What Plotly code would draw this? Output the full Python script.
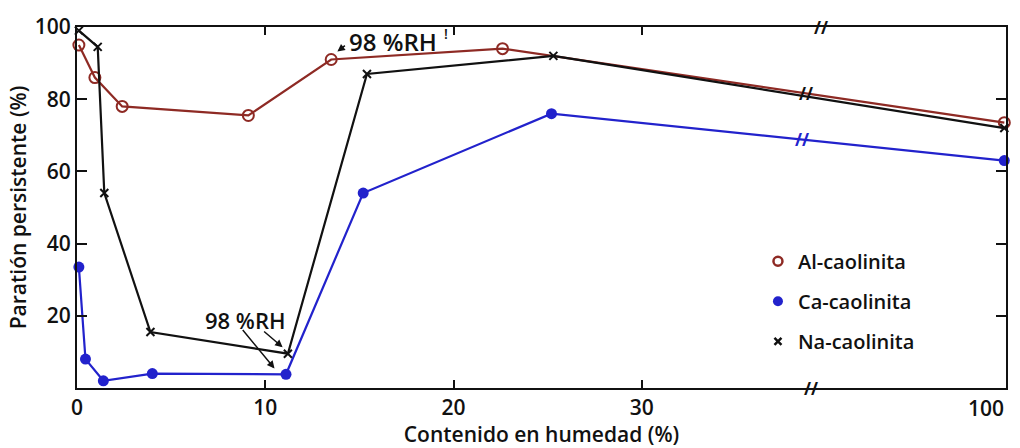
import plotly.graph_objects as go

# ---------------- data ----------------
al_x = [0.1, 0.95, 2.4, 9.1, 13.5, 22.6, 100]
al_y = [95, 86, 78, 75.5, 91, 94, 73.5]

ca_x = [0.1, 0.45, 1.4, 4.0, 11.1, 15.2, 25.2, 100]
ca_y = [33.5, 8, 2, 4, 3.8, 54, 76, 63]

na_x = [0.1, 1.1, 1.45, 3.9, 11.2, 15.4, 25.3, 100]
na_y = [99, 94.5, 54, 15.5, 9.5, 87, 92, 72]

x_ticks = [0, 10, 20, 30]
x_last_tick = 100
y_ticks = [20, 40, 60, 80, 100]

# broken x axis: linear 0-30, then compressed segment up to 100
BREAK_LO, TOP_VAL, TOP_POS = 30, 100, 49.25


def to_axis(v):
    if v <= BREAK_LO:
        return v
    return BREAK_LO + (v - BREAK_LO) * (TOP_POS - BREAK_LO) / (TOP_VAL - BREAK_LO)


def interp(xs, ys, xq):
    for i in range(len(xs) - 1):
        if xs[i] <= xq <= xs[i + 1]:
            t = (xq - xs[i]) / (xs[i + 1] - xs[i])
            return ys[i] + t * (ys[i + 1] - ys[i])
    return ys[-1]


RED = "#8e2a24"
BLUE = "#2222cc"
BLACK = "#111111"
FONT = "Open Sans"
FS = 21
WEIGHT = 600

fig = go.Figure()

series = [
    ("Al-caolinita", al_x, al_y, RED,
     dict(symbol="circle-open", size=11, color=RED, line=dict(width=2, color=RED)),
     dict(symbol="circle-open", size=9, color=RED, line=dict(width=2.5, color=RED))),
    ("Ca-caolinita", ca_x, ca_y, BLUE,
     dict(symbol="circle", size=11, color=BLUE),
     dict(symbol="circle", size=10, color=BLUE)),
    ("Na-caolinita", na_x, na_y, BLACK,
     dict(symbol="x-thin", size=8, color=BLACK, line=dict(width=2, color=BLACK)),
     dict(symbol="x-thin", size=7, color=BLACK, line=dict(width=2.5, color=BLACK))),
]

for name, xs, ys, col, mk, lmk in series:
    xd = [to_axis(v) for v in xs]
    fig.add_trace(go.Scatter(x=xd, y=ys, mode="lines+markers", name=name,
                             line=dict(color=col, width=2.2), marker=mk,
                             showlegend=False, cliponaxis=False))
    # legend-only marker entry
    fig.add_trace(go.Scatter(x=[None], y=[None], mode="markers", name=name,
                             marker=lmk, legendgroup=name, showlegend=True))

annotations = []
# break marks on axes and lines
brk_font = dict(family=FONT, size=17, color=BLACK, weight=700)
annotations.append(dict(x=39.5, y=1.0, xref="x", yref="paper", text="//",
                        yanchor="middle", showarrow=False, font=brk_font))
annotations.append(dict(x=39.0, y=0.0, xref="x", yref="paper", text="//",
                        yanchor="middle", showarrow=False, font=brk_font))
xb_red = 38.74
annotations.append(dict(x=xb_red, y=interp([to_axis(v) for v in al_x], al_y, xb_red),
                        text="//", showarrow=False, font=brk_font))
xb_blue = 38.5
annotations.append(dict(x=xb_blue, y=interp([to_axis(v) for v in ca_x], ca_y, xb_blue),
                        text="//", showarrow=False,
                        font=dict(family=FONT, size=17, color=BLUE, weight=700)))

# last x tick label (100) right-aligned at the axis end
annotations.append(dict(x=1.0, y=0, xref="paper", yref="paper", text=str(x_last_tick),
                        xanchor="right", yanchor="top", yshift=-4, showarrow=False,
                        font=dict(family=FONT, size=FS, color=BLACK, weight=WEIGHT)))

# "98 %RH" annotations
annotations.append(dict(x=8.9, y=18.8, text="98 %RH", showarrow=False,
                        font=dict(family=FONT, size=22, color=BLACK, weight=WEIGHT)))
annotations.append(dict(x=10.49, y=5.4, ax=-33, ay=-40, text="", showarrow=True,
                        arrowhead=2, arrowsize=1, arrowwidth=1.5, arrowcolor=BLACK))
annotations.append(dict(x=10.92, y=11.3, ax=-20, ay=-17, text="", showarrow=True,
                        arrowhead=2, arrowsize=1, arrowwidth=1.5, arrowcolor=BLACK))
annotations.append(dict(x=16.8, y=96.0, text="98 %RH", showarrow=False,
                        font=dict(family=FONT, size=24, color=BLACK, weight=WEIGHT)))
annotations.append(dict(x=19.6, y=98.2, text="!", showarrow=False,
                        font=dict(family=FONT, size=14, color=BLACK, weight=WEIGHT)))
annotations.append(dict(x=13.83, y=93.2, ax=9, ay=-7, text="", showarrow=True,
                        arrowhead=2, arrowsize=1, arrowwidth=1.5, arrowcolor=BLACK))

tick_font = dict(family=FONT, size=FS, color=BLACK, weight=WEIGHT)

fig.update_layout(
    width=1020, height=448,
    margin=dict(l=77, r=12, t=22, b=56),
    paper_bgcolor="white", plot_bgcolor="white",
    font=dict(family=FONT, size=FS, color=BLACK, weight=WEIGHT),
    showlegend=True,
    legend=dict(x=0.733, y=0.405, xanchor="left", yanchor="top",
                bgcolor="rgba(0,0,0,0)", tracegroupgap=11,
                font=dict(family=FONT, size=20, color=BLACK, weight=WEIGHT),
                itemwidth=30),
    annotations=annotations,
    xaxis=dict(range=[0, 49.34], tickvals=[to_axis(v) for v in x_ticks],
               ticktext=[str(v) for v in x_ticks], tickfont=tick_font,
               showgrid=False, zeroline=False, showline=True, linewidth=2,
               linecolor=BLACK, mirror="ticks", ticks="inside", ticklen=8,
               tickwidth=2, tickcolor=BLACK,
               title=dict(text="Contenido en humedad (%)", standoff=0,
                          font=dict(family=FONT, size=FS, weight=WEIGHT))),
    yaxis=dict(range=[0, 100], tickvals=y_ticks, ticktext=[str(v) for v in y_ticks],
               tickfont=tick_font,
               showgrid=False, zeroline=False, showline=True, linewidth=2,
               linecolor=BLACK, mirror="ticks", ticks="inside", ticklen=10,
               tickwidth=2, tickcolor=BLACK,
               title=dict(text="Paratión persistente (%)", standoff=2,
                          font=dict(family=FONT, size=FS, weight=WEIGHT))),
)

fig.write_html("out.html")
